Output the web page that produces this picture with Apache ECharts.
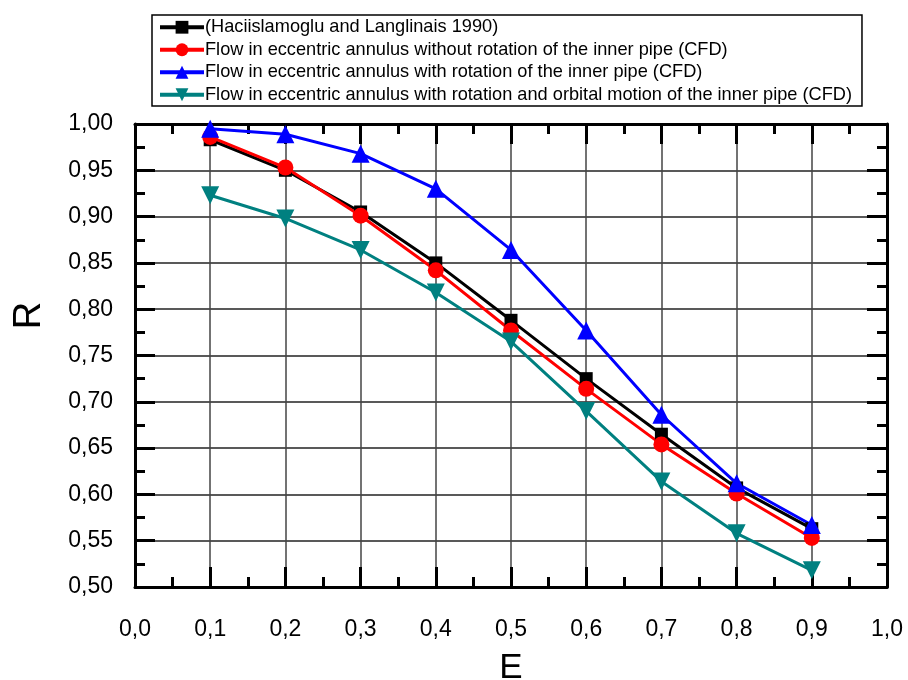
<!DOCTYPE html>
<html>
<head>
<meta charset="utf-8">
<script src="https://cdn.jsdelivr.net/npm/echarts@6/dist/echarts.min.js"></script>
<style>
html,body{margin:0;padding:0;background:#fff;}
#main{width:908px;height:680px;}
</style>
</head>
<body>
<div id="main"></div>
<script>
var E = [0.1, 0.2, 0.3, 0.4, 0.5, 0.6, 0.7, 0.8, 0.9];
var names = [
    '(Haciislamoglu and Langlinais 1990)',
    'Flow in eccentric annulus without rotation of the inner pipe (CFD)',
    'Flow in eccentric annulus with rotation of the inner pipe (CFD)',
    'Flow in eccentric annulus with rotation and orbital motion of the inner pipe (CFD)'
];
var haciislamoglu = [0.983, 0.950, 0.905, 0.850, 0.788, 0.725, 0.665, 0.607, 0.563];
var noRotation = [0.986, 0.953, 0.901, 0.842, 0.777, 0.714, 0.654, 0.601, 0.553];
var withRotation = [0.995, 0.989, 0.968, 0.930, 0.864, 0.777, 0.686, 0.612, 0.567];
var orbital = [0.923, 0.898, 0.864, 0.818, 0.765, 0.690, 0.614, 0.558, 0.518];

function pairs(ys){
    return E.map(function(x, i){ return [x, ys[i]]; });
}

(function(){
    var myChart = echarts.init(document.getElementById('main'));
    var font = '"Liberation Sans", Arial, sans-serif';
    var axisLine = {show: true, onZero: false, lineStyle: {color: '#000', width: 3}};
    var tick = {show: true, inside: true, length: 20, lineStyle: {color: '#000', width: 3}};
    var minor = {show: true, splitNumber: 2, length: 10, lineStyle: {color: '#000', width: 3}};
    var option = {
        animation: false,
        backgroundColor: '#fff',
        legend: {
            orient: 'vertical',
            left: 152,
            top: 15,
            padding: [3, 10, 2, 6],
            itemGap: 4,
            itemWidth: 44,
            itemHeight: 16,
            borderColor: '#000',
            borderWidth: 1.5,
            backgroundColor: '#fff',
            lineStyle: {width: 4},
            textStyle: {color: '#000', fontSize: 18.2, fontFamily: font, lineHeight: 18.5, padding: [0, 0, 0, -4]},
            data: names
        },
        grid: {left: 135, right: 21, top: 124, bottom: 93, outerBoundsMode: 'none', containLabel: false},
        xAxis: [
            {
                type: 'value', min: 0, max: 1, interval: 0.1,
                name: 'E', nameLocation: 'middle', nameGap: 64,
                nameTextStyle: {color: '#000', fontSize: 35, fontFamily: font},
                axisLine: axisLine, axisTick: tick, minorTick: minor,
                axisLabel: {
                    color: '#000', fontSize: 23, fontFamily: font, margin: 31,
                    formatter: function(v){ return v.toFixed(1).replace('.', ','); }
                },
                splitLine: {show: true, lineStyle: {color: '#444', width: 1.5}}
            },
            {
                type: 'value', min: 0, max: 1, interval: 0.1, position: 'top',
                axisLine: axisLine, axisTick: tick, minorTick: minor,
                axisLabel: {show: false}, splitLine: {show: false}
            }
        ],
        yAxis: [
            {
                type: 'value', min: 0.5, max: 1, interval: 0.05,
                name: 'R', nameLocation: 'middle', nameGap: 86,
                nameTextStyle: {color: '#000', fontSize: 38, fontFamily: font, padding: [0, 0, 0, 80]},
                axisLine: axisLine, axisTick: tick, minorTick: minor,
                axisLabel: {
                    color: '#000', fontSize: 23, fontFamily: font, margin: 22,
                    formatter: function(v){ return v.toFixed(2).replace('.', ','); }
                },
                splitLine: {show: true, lineStyle: {color: '#222', width: 1.5}}
            },
            {
                type: 'value', min: 0.5, max: 1, interval: 0.05, position: 'right',
                axisLine: axisLine, axisTick: tick, minorTick: minor,
                axisLabel: {show: false}, splitLine: {show: false}
            }
        ],
        series: [
            {
                name: names[0], type: 'line', data: pairs(haciislamoglu),
                symbol: 'rect', symbolSize: 13,
                lineStyle: {color: '#000', width: 3},
                itemStyle: {color: '#000'}
            },
            {
                name: names[1], type: 'line', data: pairs(noRotation),
                symbol: 'circle', symbolSize: 16,
                lineStyle: {color: '#ff0000', width: 3},
                itemStyle: {color: '#ff0000'}
            },
            {
                name: names[2], type: 'line', data: pairs(withRotation),
                symbol: 'triangle', symbolSize: 18,
                lineStyle: {color: '#0000ff', width: 3},
                itemStyle: {color: '#0000ff'}
            },
            {
                name: names[3], type: 'line', data: pairs(orbital),
                symbol: 'triangle', symbolRotate: 180, symbolSize: 18,
                lineStyle: {color: '#008080', width: 3},
                itemStyle: {color: '#008080'}
            }
        ]
    };
    myChart.setOption(option);
    window.addEventListener('resize', function(){
        myChart.resize();
    });
})();
</script>
</body>
</html>
